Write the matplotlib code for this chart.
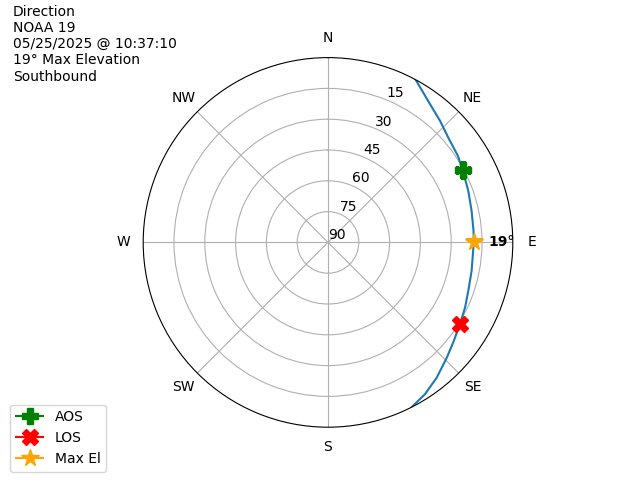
import numpy as np
import matplotlib
matplotlib.use("Agg")
import matplotlib.pyplot as plt

# pass track (azimuth deg, elevation deg)
track_az = [28.3, 35.3, 42.7, 48.9, 56.4, 61.8, 69.8, 77.6, 85.5, 90.0,
            101.2, 109.1, 115.4, 121.6, 128.0, 134.1, 141.2, 147.4, 153.1]
track_el = [0.0, 5.6, 9.5, 12.3, 14.0, 15.6, 17.2, 18.4, 18.9, 19.0,
            18.7, 17.7, 16.1, 14.5, 12.2, 9.4, 5.5, 2.3, 0.0]

aos_az, aos_el = 61.8, 15.6
los_az, los_el = 121.6, 14.5
max_az, max_el = 90.0, 19.0

directions = ['N', 'NE', 'E', 'SE', 'S', 'SW', 'W', 'NW']
el_ticks = [90, 75, 60, 45, 30, 15]

info = "Direction\nNOAA 19\n05/25/2025 @ 10:37:10\n19° Max Elevation\nSouthbound"

fig = plt.figure(figsize=(6.4, 4.8), dpi=100)
ax = fig.add_subplot(111, projection='polar')
ax.set_theta_zero_location('N')
ax.set_theta_direction(-1)

# radius = 90 - elevation so the zenith sits in the centre
ax.plot(np.radians(track_az), 90 - np.array(track_el), color='C0', lw=1.5)
ax.plot(np.radians(aos_az), 90 - aos_el, marker='P', color='green', markersize=12, label='AOS')
ax.plot(np.radians(los_az), 90 - los_el, marker='X', color='red', markersize=12, label='LOS')
ax.plot(np.radians(max_az), 90 - max_el, marker='*', color='orange', markersize=13, label='Max El')
ax.text(np.radians(max_az), 90 - max_el + 7, f"{int(max_el)}°", fontweight='bold',
        ha='left', va='center', fontsize=10)

ax.set_rlim(0, 90)
ax.set_rticks([90 - e for e in el_ticks])
ax.set_yticklabels([str(e) for e in el_ticks])
ax.set_thetagrids(range(0, 360, 45), directions)

fig.text(0.02, 0.99, info, ha='left', va='top', fontsize=10)
fig.legend(loc='lower left', bbox_to_anchor=(0.005, 0.003))

fig.savefig('out.png', dpi=100)
